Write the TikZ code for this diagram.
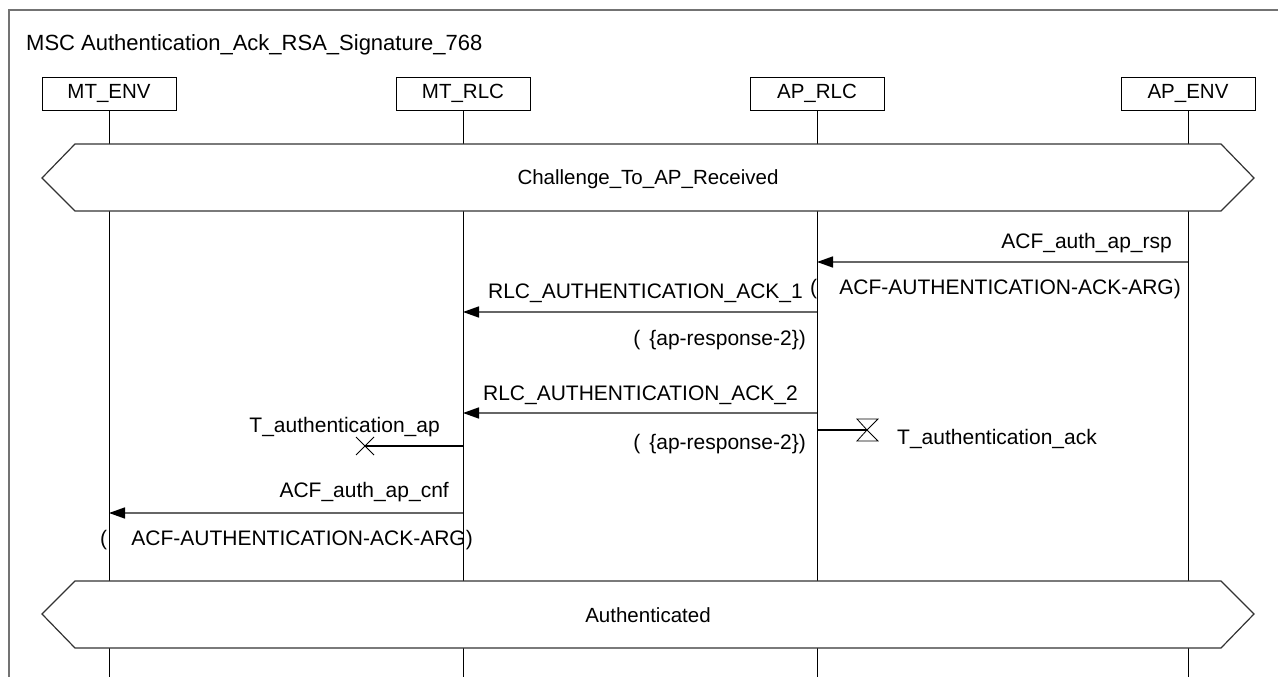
\documentclass[tikz,border=0pt]{standalone}
\usepackage{fontspec}
\setmainfont{Liberation Sans}
\usetikzlibrary{arrows.meta}
\begin{document}
\begin{tikzpicture}[x=1pt,y=-1pt,
  txt/.style={inner sep=0pt, font=\fontsize{21}{25}\selectfont},
  inst/.style={draw=black, line width=0.9pt, minimum width=134pt, minimum height=33pt, inner sep=0pt, fill=white, font=\fontsize{20.5}{24}\selectfont},
  life/.style={draw=black, line width=0.9pt},
  framel/.style={draw=black!55, line width=1.5pt},
  cond/.style={draw=black!80, line width=1.2pt, fill=white},
  msg/.style={draw=black!60, line width=1.5pt, -{Triangle[length=16pt,width=11pt,color=black,fill=black]}},
  tline/.style={draw=black, line width=1.1pt},
  tsym/.style={draw=black, line width=0.8pt}]
\useasboundingbox (0,0) rectangle (1278,677);
% frame
\coordinate (fbl) at (9,677);
\coordinate (ftl) at (9,10);
\coordinate (ftr) at (1278,10);
\draw[framel] (fbl) -- (ftl) -- (ftr);
\node[txt, anchor=base west, font=\fontsize{22}{26}\selectfont] (title) at (26,51) {MSC Authentication\_Ack\_RSA\_Signature\_768};
% instances
\node[inst] (mtenv) at (109,93.5) {MT\_ENV};
\node[inst] (mtrlc) at (463,93.5) {MT\_RLC};
\node[inst] (aprlc) at (817,93.5) {AP\_RLC};
\node[inst] (apenv) at (1188,93.5) {AP\_ENV};
\coordinate (bot) at (0,677);
\foreach \i in {mtenv,mtrlc,aprlc,apenv}{
  \draw[life] (\i.south) -- (\i.south |- bot);
}
% condition 1
\draw[cond] (42,178) -- (75,144) -- (1221,144) -- (1254,178) -- (1221,211) -- (75,211) -- cycle;
\node[txt, font=\fontsize{20.5}{24}\selectfont] (c1) at (648,179) {Challenge\_To\_AP\_Received};
% condition 2
\draw[cond] (42,614) -- (75,581) -- (1221,581) -- (1254,614) -- (1221,648) -- (75,648) -- cycle;
\node[txt, font=\fontsize{20.5}{24}\selectfont] (c2) at (648,615) {Authenticated};
% message 1
\coordinate (m1a) at (apenv.south |- 0,262);
\coordinate (m1b) at (aprlc.south |- 0,262);
\draw[msg] (m1a) -- (m1b);
\node[txt, anchor=base east] (m1l) at (1172,248) {ACF\_auth\_ap\_rsp};
\node[txt, anchor=base west] (m1p0) at (810,294) {(};
\node[txt, anchor=base east] (m1p) at (1181,294) {ACF-AUTHENTICATION-ACK-ARG)};
% message 2
\coordinate (m2a) at (aprlc.south |- 0,312);
\coordinate (m2b) at (mtrlc.south |- 0,312);
\draw[msg] (m2a) -- (m2b);
\node[txt, anchor=base east] (m2l) at (803,298) {RLC\_AUTHENTICATION\_ACK\_1};
\node[txt, anchor=base east] (m2p) at (806,345) {(\hspace{9pt}\{ap-response-2\})};
% message 3
\coordinate (m3a) at (aprlc.south |- 0,413);
\coordinate (m3b) at (mtrlc.south |- 0,413);
\draw[msg] (m3a) -- (m3b);
\node[txt, anchor=base east] (m3l) at (798,400) {RLC\_AUTHENTICATION\_ACK\_2};
\node[txt, anchor=base east] (m3p) at (806,449) {(\hspace{9pt}\{ap-response-2\})};
% timer set T_authentication_ack
\coordinate (t1a) at (aprlc.south |- 0,430);
\coordinate (t1b) at (867,430);
\draw[tline] (t1a) -- (t1b);
\draw[tsym] (857,419) -- (878,419) -- (t1b) -- cycle;
\draw[tsym] (857,441) -- (878,441) -- (t1b) -- cycle;
\node[txt, anchor=base west] (t1l) at (897,444) {T\_authentication\_ack};
% timer stop T_authentication_ap
\coordinate (t2a) at (mtrlc.south |- 0,446);
\coordinate (t2b) at (365,446);
\draw[tline] (t2a) -- (t2b);
\draw[tsym] (356,437) -- (374,455);
\draw[tsym] (356,455) -- (374,437);
\node[txt, anchor=base east] (t2l) at (440,432) {T\_authentication\_ap};
% message 4
\coordinate (m4a) at (mtrlc.south |- 0,513);
\coordinate (m4b) at (mtenv.south |- 0,513);
\draw[msg] (m4a) -- (m4b);
\node[txt, anchor=base east] (m4l) at (449,497) {ACF\_auth\_ap\_cnf};
\node[txt, anchor=base west] (m4p0) at (100,545) {(};
\node[txt, anchor=base east] (m4p) at (473,545) {ACF-AUTHENTICATION-ACK-ARG)};
\end{tikzpicture}
\end{document}
